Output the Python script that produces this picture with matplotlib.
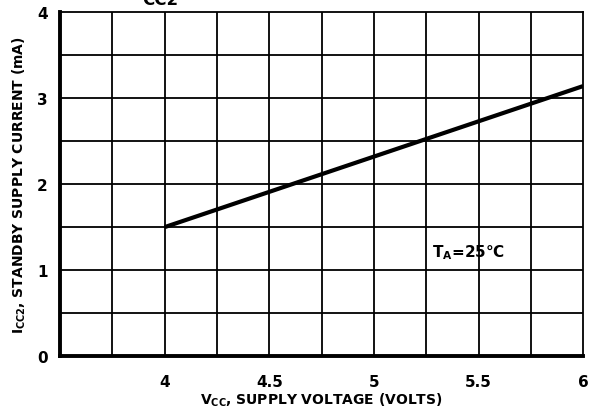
import matplotlib
matplotlib.use('Agg')
import matplotlib.pyplot as plt
import numpy as np

# data
vcc = [4.0, 5.0, 6.0]
icc2 = [1.5, 2.32, 3.14]

x_ticks = [4, 4.5, 5, 5.5, 6]
x_ticklabels = ['4', '4.5', '5', '5.5', '6']
y_ticks = [0, 1, 2, 3, 4]

plt.rcParams['font.family'] = 'DejaVu Sans'
plt.rcParams['font.weight'] = 'bold'

fig = plt.figure(figsize=(5.89, 4.10), dpi=100)
ax = fig.add_axes([0.102, 0.129, 0.888, 0.839])

ax.set_xlim(3.5, 6)
ax.set_ylim(0, 4)

# grid every 0.25 V and 0.5 mA
for gx in np.arange(3.75, 6.0, 0.25):
    ax.axvline(gx, color='black', lw=1.3, zorder=1)
for gy in np.arange(0.5, 4.0, 0.5):
    ax.axhline(gy, color='black', lw=1.3, zorder=1)

ax.plot(vcc, icc2, color='black', lw=3, solid_capstyle='butt', zorder=3)

ax.text(5.28, 1.21, 'T$_\\mathregular{A}$=25°C', fontsize=11, fontweight='bold',
        va='center', ha='left')

for side in ['top', 'right']:
    ax.spines[side].set_linewidth(1.3)
for side in ['left', 'bottom']:
    ax.spines[side].set_linewidth(2.8)

ax.set_xticks(x_ticks)
ax.set_xticklabels(x_ticklabels)
ax.set_yticks(y_ticks)
ax.tick_params(length=0, labelsize=11)
ax.tick_params(axis='x', pad=13)
ax.tick_params(axis='y', pad=9)
for lab in ax.get_xticklabels() + ax.get_yticklabels():
    lab.set_fontweight('bold')

ax.set_xlabel('V$_\\mathregular{CC}$, SUPPLY VOLTAGE (VOLTS)', fontsize=10,
              fontweight='bold', labelpad=1)
ax.set_ylabel('I$_\\mathregular{CC2}$, STANDBY SUPPLY CURRENT (mA)', fontsize=10,
              fontweight='bold', labelpad=6)

# title clipped at top of the scan
fig.text(0.272, 0.989, 'CC2', fontsize=12, fontweight='bold', ha='center', va='baseline')

fig.savefig('out.png', dpi=100)
